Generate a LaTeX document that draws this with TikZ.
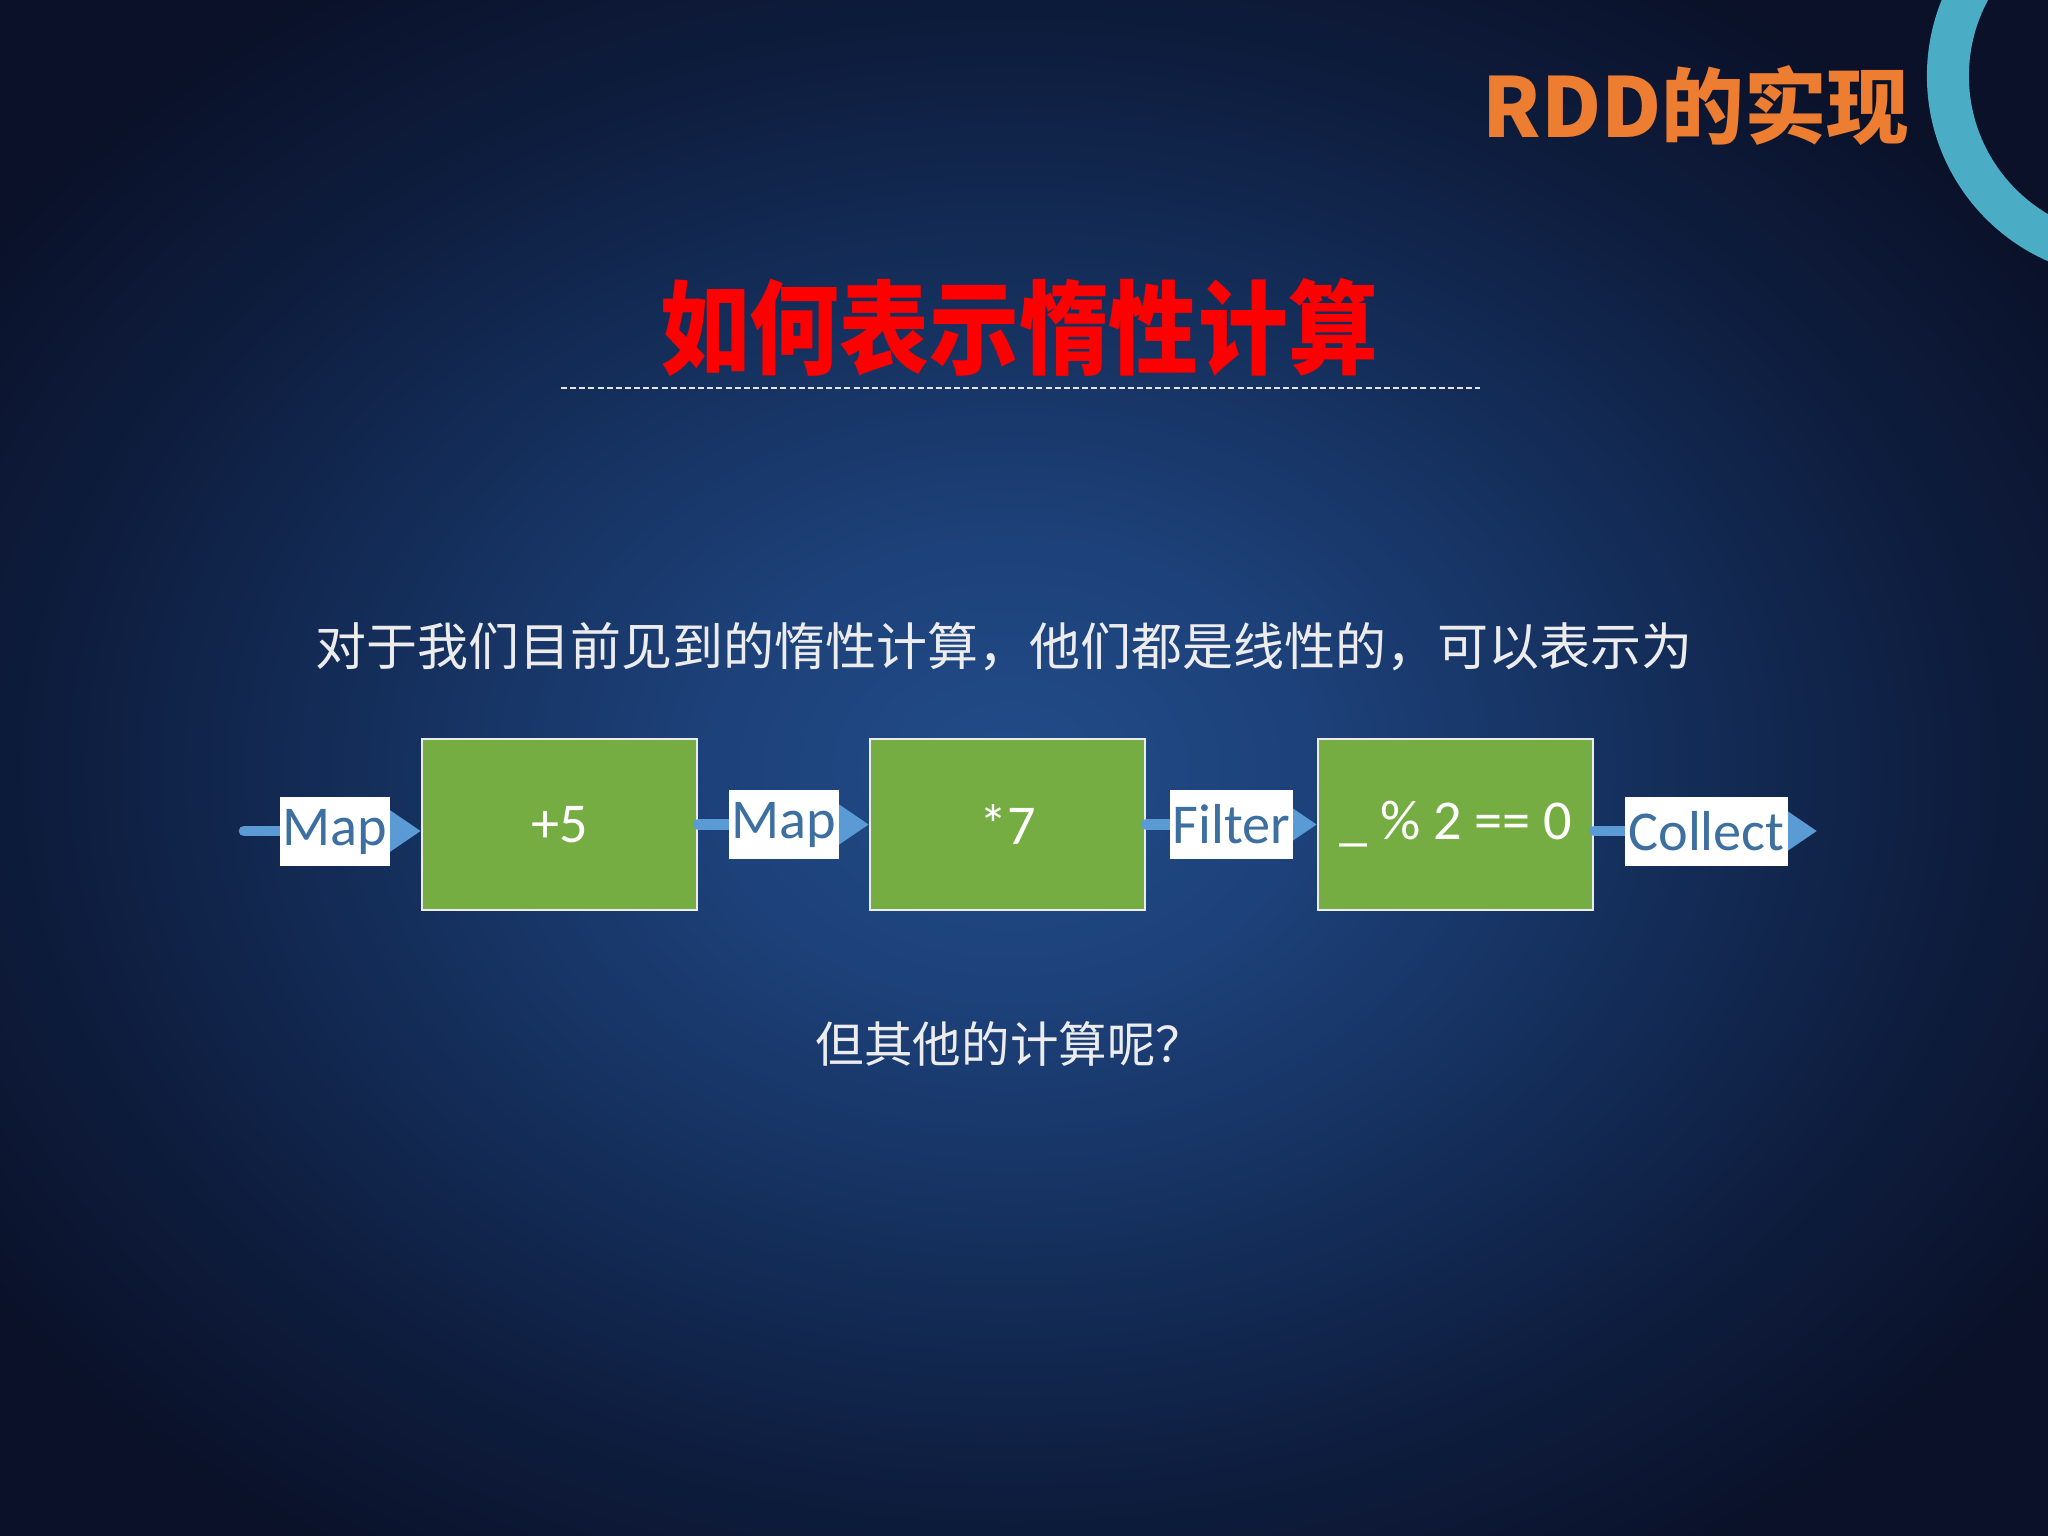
\documentclass[tikz,border=0pt]{standalone}
\usepackage{fontspec}
\setmainfont{Carlito}
\newfontfamily\cjk{Noto Sans CJK SC}
\newfontfamily\cjkcond[FakeStretch=0.88]{Noto Sans CJK SC}
\usetikzlibrary{arrows.meta}
\definecolor{bgdark}{HTML}{0A1128}
\definecolor{glowA}{HTML}{224C88}
\definecolor{glowB}{HTML}{1D417A}
\definecolor{glowC}{HTML}{142E5A}
\definecolor{glowD}{HTML}{0E1D3E}
\definecolor{boxgreen}{HTML}{75AD43}
\definecolor{arrowblue}{HTML}{5B9BD5}
\definecolor{lblblue}{HTML}{3D6FA0}
\definecolor{ringc}{HTML}{4BACC6}
\definecolor{orangeT}{HTML}{ED7D31}
\definecolor{textw}{HTML}{ECECEC}
\pgfdeclareradialshading{bgglow}{\pgfpoint{0bp}{0bp}}{color(0bp)=(glowA); color(6bp)=(glowB); color(13bp)=(glowC); color(19bp)=(glowD); color(25bp)=(bgdark); color(50bp)=(bgdark)}
\begin{document}
\begin{tikzpicture}[x=0.01cm,y=-0.01cm,
  opbox/.style={draw=white!85!gray, line width=0.6pt, fill=boxgreen, minimum width=2.75cm, minimum height=1.71cm, inner sep=0pt, text=white, font=\fontsize{16}{18}\selectfont},
  lbl/.style={fill=white, text=lblblue, inner ysep=0pt, inner xsep=0.03cm, minimum height=0.69cm, font=\fontsize{16}{18}\selectfont},
  flow/.style={draw=arrowblue, line width=3pt, line cap=round, -{Triangle[length=9pt,width=11.5pt]}},
  cjktext/.style={inner sep=0pt, text=textw}
]
\useasboundingbox (0,0) rectangle (2048,1536);
\begin{scope}
  \clip (0,0) rectangle (2048,1536);
  \fill[bgdark] (0,0) rectangle (2048,1536);
  \shade[shading=bgglow] (1010,770) ellipse [x radius=12.5cm, y radius=9.5cm];
  \draw[ringc, line width=11.95pt] (2129,76) circle [radius=1.81cm];
\end{scope}

% titles
\node[inner sep=0pt, text=orangeT, font=\cjk\bfseries\fontsize{23.5}{28}\selectfont] (rdd) at (1696,106) {RDD的实现};
\node[inner sep=0pt, text=red, font=\cjkcond\bfseries\fontsize{29}{34}\selectfont] (title) at (1019,327) {如何表示惰性计算};
\coordinate (d1) at (561,388);
\coordinate (d2) at (1480,388);
\draw[white!80!gray, line width=0.6pt, dash pattern=on 1.7pt off 0.9pt] (d1) -- (d2);

\node[cjktext, font=\cjk\fontsize{14.5}{17}\selectfont] (sub) at (1004,647) {对于我们目前见到的惰性计算，他们都是线性的，可以表示为};
\node[cjktext, font=\cjk\fontsize{13.8}{17}\selectfont] (q) at (1010,1044) {但其他的计算呢？};

% boxes
\node[opbox] (b1) at (559.5,824.5) {+5};
\node[opbox] (b2) at (1007.5,824.5) {*7};
\node[opbox] (b3) at (1455.5,824.5) {\_ \% 2 == 0};

% connectors
\coordinate (s) at (244,831);
\coordinate (e) at (1817,831);
\draw[flow] (s) -- (b1.west |- s);
\draw[flow] (b1.east) -- (b2.west);
\draw[flow] (b2.east) -- (b3.west);
\draw[flow] (b3.east |- e) -- (e);

% labels
\node[lbl, minimum width=1.08cm] (l1) at (335,831.5) {Map};
\node[lbl, minimum width=1.08cm] (l2) at (784,824.5) {Map};
\node[lbl, minimum width=1.23cm] (l3) at (1231.5,824.5) {Filter};
\node[lbl, minimum width=1.61cm] (l4) at (1706.5,831.5) {Collect};
\end{tikzpicture}
\end{document}
